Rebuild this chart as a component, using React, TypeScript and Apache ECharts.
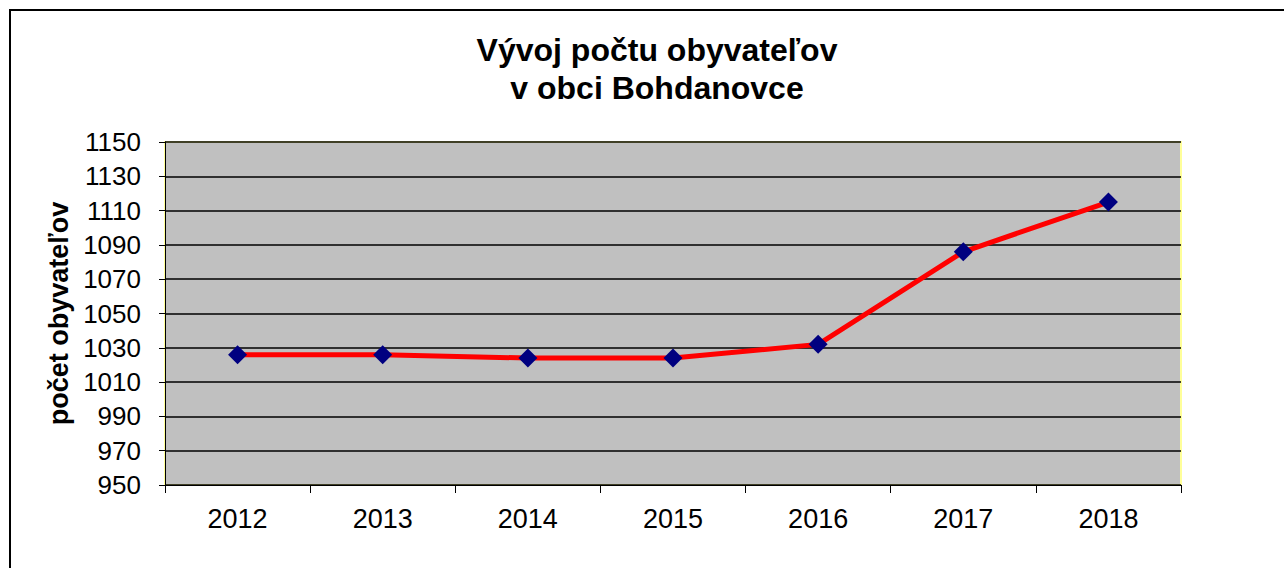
import React, { useEffect, useRef } from "react";
import * as echarts from "echarts";

const years = ["2012", "2013", "2014", "2015", "2016", "2017", "2018"];
const population = [1026, 1026, 1024, 1024, 1032, 1086, 1115];
const titleLines = ["Vývoj počtu obyvateľov", "v obci Bohdanovce"];
const yAxisName = "počet obyvateľov";

export default function App() {
  const ref = useRef<HTMLDivElement>(null);
  useEffect(() => {
    if (!ref.current) return;
    const chart = echarts.init(ref.current, null, { renderer: "svg" });
    const font = "Liberation Sans, Arial, sans-serif";
    chart.setOption({
      animation: false,
      backgroundColor: "#ffffff",
      title: {
        text: titleLines.join("\n"),
        left: 652,
        top: 26,
        textAlign: "center",
        textStyle: {
          fontFamily: font,
          fontSize: 32,
          fontWeight: "bold",
          color: "#000",
          lineHeight: 38,
        },
      },
      graphic: [
        {
          type: "polyline",
          shape: { points: [[10, 568], [10, 10], [1284, 10]] },
          style: { stroke: "#000", lineWidth: 2, fill: null },
          silent: true,
        },
      ],
      grid: {
        left: 165,
        right: 103,
        top: 142,
        bottom: 83,
        show: true,
        backgroundColor: "#C0C0C0",
        borderColor: "#FFFF99",
        borderWidth: 2,
      },
      xAxis: {
        type: "category",
        data: years,
        boundaryGap: true,
        axisLine: { show: true, lineStyle: { color: "#000", width: 1 } },
        axisTick: { show: true, length: 8, alignWithLabel: false, lineStyle: { color: "#000" } },
        axisLabel: { fontFamily: font, fontSize: 27, color: "#000", margin: 20 },
        splitLine: { show: false },
      },
      yAxis: {
        type: "value",
        min: 950,
        max: 1150,
        interval: 20,
        name: yAxisName,
        nameLocation: "middle",
        nameGap: 91,
        nameRotate: 90,
        nameTextStyle: { fontFamily: font, fontSize: 27, fontWeight: "bold", color: "#000" },
        axisLine: { show: true, lineStyle: { color: "#000", width: 1 } },
        axisTick: { show: true, length: 6, lineStyle: { color: "#000" } },
        axisLabel: {
          fontFamily: font,
          fontSize: 26,
          color: "#000",
          margin: 24,
          formatter: (v: number) => String(v),
        },
        splitLine: { show: true, lineStyle: { color: "#000", width: 1.5 } },
      },
      series: [
        {
          type: "line",
          data: population,
          symbol: "diamond",
          symbolSize: 19,
          itemStyle: { color: "#000080" },
          lineStyle: { color: "#FF0000", width: 5 },
          z: 3,
        },
      ],
    });
    return () => chart.dispose();
  }, []);
  return (
    <div
      ref={ref}
      style={{ position: "fixed", left: 0, top: 0, width: 1284, height: 568 }}
    />
  );
}
